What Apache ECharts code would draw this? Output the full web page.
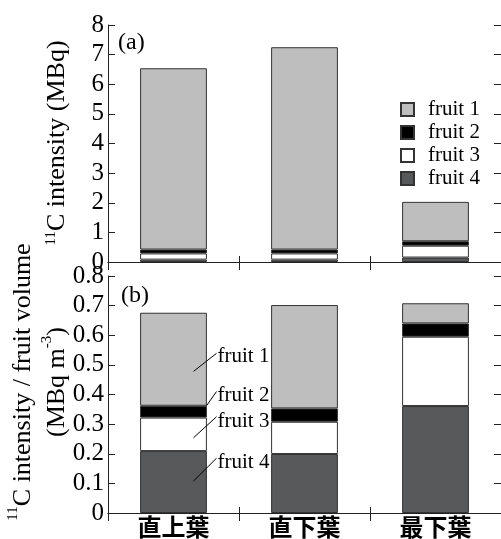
<!DOCTYPE html>
<html>
<head>
<meta charset="utf-8">
<script src="https://cdn.jsdelivr.net/npm/echarts@6/dist/echarts.min.js"></script>
<style>
  html, body { margin: 0; padding: 0; background: #fff; }
  #main { width: 501px; height: 539px; }
</style>
</head>
<body>
<div id="main"></div>
<script>
// 葉の位置
var categories = ['直上葉', '直下葉', '最下葉']
var fruitNames = ['fruit 1', 'fruit 2', 'fruit 3', 'fruit 4']

// (a) 11C intensity (MBq)
var topFruit1 = [6.12, 6.83, 1.33]
var topFruit2 = [0.13, 0.13, 0.15]
var topFruit3 = [0.21, 0.21, 0.40]
var topFruit4 = [0.08, 0.08, 0.15]

// (b) 11C intensity / fruit volume (MBq m-3)
var botFruit1 = [0.314, 0.349, 0.068]
var botFruit2 = [0.040, 0.045, 0.045]
var botFruit3 = [0.113, 0.109, 0.234]
var botFruit4 = [0.209, 0.199, 0.361]

var topTicks = [0, 8, 1]       // min, max, interval
var botTicks = [0, 0.8, 0.1]

// 注記（直上葉の棒）: 線の始点の値, 終点の値, 文字の値
var annoFrom = [0.478, 0.362, 0.254, 0.108]
var annoTo = [0.539, 0.410, 0.325, 0.185]
var annoText = [0.530, 0.395, 0.308, 0.170]

var colors = {
  'fruit 1': '#bebebe',
  'fruit 2': '#000000',
  'fruit 3': '#ffffff',
  'fruit 4': '#58595b'
}
var serif = 'Liberation Serif'

var chart = echarts.init(document.getElementById('main'))

function xAxisDef(gridIndex, pos, showLabel, tickLen) {
  return {
    type: 'category',
    gridIndex: gridIndex,
    position: pos,
    data: categories,
    boundaryGap: true,
    axisLine: { show: true, lineStyle: { color: '#222', width: 1 } },
    axisTick: { show: true, inside: true, length: tickLen, lineStyle: { color: '#222' } },
    axisLabel: {
      show: showLabel,
      margin: 2,
      color: '#000',
      fontSize: 24,
      fontWeight: 'bold',
      fontFamily: 'Noto Sans CJK JP'
    },
    splitLine: { show: false }
  }
}

function yAxisDef(gridIndex, pos, ticks, showLabel) {
  return {
    type: 'value',
    gridIndex: gridIndex,
    position: pos,
    min: ticks[0],
    max: ticks[1],
    interval: ticks[2],
    axisLine: { show: true, lineStyle: { color: '#222', width: 1 } },
    axisTick: { show: true, inside: true, length: 7, lineStyle: { color: '#222' } },
    axisLabel: {
      show: showLabel,
      margin: 4,
      color: '#000',
      fontSize: 25,
      fontFamily: serif
    },
    splitLine: { show: false }
  }
}

function barSeries(name, data, xi, yi, stack) {
  return {
    name: name,
    type: 'bar',
    stack: stack,
    xAxisIndex: xi,
    yAxisIndex: yi,
    barWidth: '51%',
    data: data,
    itemStyle: { color: colors[name], borderColor: '#333', borderWidth: 1 },
    emphasis: { disabled: true }
  }
}

var option = {
  animation: false,
  backgroundColor: '#fff',
  grid: [
    { left: 108, top: 25, width: 396, height: 237 },
    { left: 108, top: 276, width: 396, height: 237 }
  ],
  xAxis: [
    xAxisDef(0, 'bottom', false, 6),
    xAxisDef(0, 'top', false, 8),
    xAxisDef(1, 'bottom', true, 6),
    xAxisDef(1, 'top', false, 8)
  ],
  yAxis: [
    yAxisDef(0, 'left', topTicks, true),
    yAxisDef(0, 'right', topTicks, false),
    yAxisDef(1, 'left', botTicks, true),
    yAxisDef(1, 'right', botTicks, false)
  ],
  legend: {
    data: fruitNames,
    orient: 'vertical',
    left: 395,
    top: 94,
    itemWidth: 13,
    itemHeight: 13,
    itemGap: 2,
    icon: 'rect',
    selectedMode: false,
    textStyle: { color: '#000', fontSize: 21, fontFamily: serif, padding: [0, 0, 0, 9] }
  },
  series: [
    // 下から fruit 4, 3, 2, 1
    barSeries('fruit 4', topFruit4, 0, 0, 'a'),
    barSeries('fruit 3', topFruit3, 0, 0, 'a'),
    barSeries('fruit 2', topFruit2, 0, 0, 'a'),
    barSeries('fruit 1', topFruit1, 0, 0, 'a'),
    barSeries('fruit 4', botFruit4, 2, 2, 'b'),
    barSeries('fruit 3', botFruit3, 2, 2, 'b'),
    barSeries('fruit 2', botFruit2, 2, 2, 'b'),
    barSeries('fruit 1', botFruit1, 2, 2, 'b')
  ]
}
chart.setOption(option)

// 注記と軸名
var graphics = []
var cx = chart.convertToPixel({ xAxisIndex: 2 }, categories[0])
var fromDx = [20, 33, 20, 20]
for (var i = 0; i < fruitNames.length; i++) {
  var y0 = chart.convertToPixel({ yAxisIndex: 2 }, annoFrom[i])
  var y1 = chart.convertToPixel({ yAxisIndex: 2 }, annoTo[i])
  var yt = chart.convertToPixel({ yAxisIndex: 2 }, annoText[i])
  graphics.push({
    type: 'line',
    shape: { x1: cx + fromDx[i], y1: y0, x2: cx + 43, y2: y1 },
    style: { stroke: '#000', lineWidth: 1 },
    z: 10
  })
  graphics.push({
    type: 'text',
    x: cx + 44,
    y: yt,
    style: {
      text: fruitNames[i],
      fill: '#000',
      fontSize: 21,
      fontFamily: serif,
      align: 'left',
      verticalAlign: 'middle'
    },
    z: 10
  })
}
var sup = { fontSize: 15, fontFamily: serif, verticalAlign: 'top', fill: '#000' }
graphics.push({
  type: 'text',
  x: 57,
  y: 143,
  rotation: Math.PI / 2,
  style: {
    text: '{sup|11}C intensity (MBq)',
    rich: { sup: sup },
    fill: '#000',
    fontSize: 26,
    fontFamily: serif,
    align: 'center',
    verticalAlign: 'middle'
  }
})
graphics.push({
  type: 'text',
  x: 40,
  y: 382,
  rotation: Math.PI / 2,
  style: {
    text: '{sup|11}C intensity / fruit volume\n(MBq m{sup|-3})',
    rich: { sup: sup },
    fill: '#000',
    fontSize: 26,
    lineHeight: 34,
    fontFamily: serif,
    align: 'center',
    verticalAlign: 'middle'
  }
})
graphics.push({
  type: 'text', x: 118, y: 43,
  style: { text: '(a)', fill: '#000', fontSize: 24, fontFamily: serif, verticalAlign: 'middle' }
})
graphics.push({
  type: 'text', x: 121, y: 296,
  style: { text: '(b)', fill: '#000', fontSize: 24, fontFamily: serif, verticalAlign: 'middle' }
})
chart.setOption({ graphic: graphics })
</script>
</body>
</html>
